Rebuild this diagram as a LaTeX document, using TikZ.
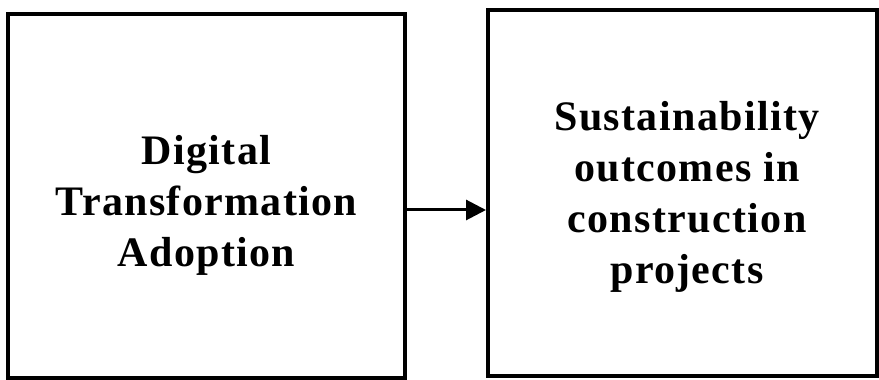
\documentclass[tikz,border=0pt]{standalone}
\usepackage{fontspec}
\setmainfont[LetterSpace=3.2]{Liberation Serif}
\usetikzlibrary{arrows.meta}
\begin{document}
\begin{tikzpicture}[x=1pt,y=1pt,
  box/.style={draw=black,line width=4pt,inner sep=0pt},
  lbl/.style={align=center,inner sep=0pt,anchor=north,font=\fontsize{42}{51}\selectfont\bfseries},
  conn/.style={line width=3pt,-{Triangle[length=20pt,width=20pt]}}]
\useasboundingbox (0,0) rectangle (879,380);
\fill[white] (0,0) rectangle (879,380);
\node[box,minimum width=397pt,minimum height=364pt] (L) at (206.5,184) {};
\node[box,minimum width=389pt,minimum height=366pt] (R) at (682.5,187) {};
\node[lbl] (lt) at (206.5,245) {Digital\\Transformation\\Adoption};
\node[lbl] (rt) at (687,279) {Sustainability\\outcomes in\\construction\\projects};
\coordinate (ay) at (0,170);
\draw[conn] (L.east |- ay) -- (R.west |- ay);
\end{tikzpicture}
\end{document}
